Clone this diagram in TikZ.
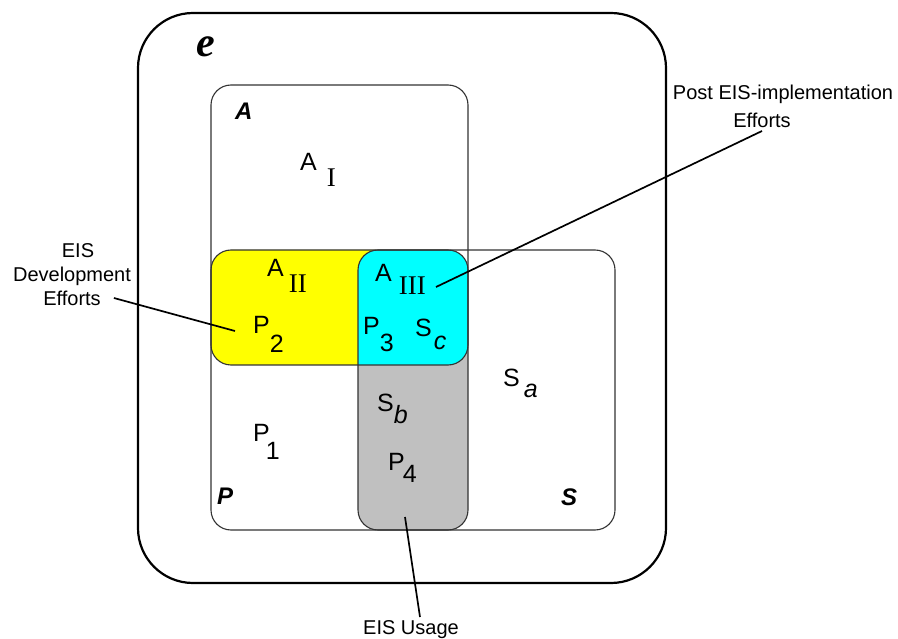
\documentclass[tikz,border=0pt]{standalone}
\usepackage{fontspec}
\setmainfont{Liberation Sans}
\newfontfamily\timesfam{Liberation Serif}
% lowered subscript: drop (pt), text
\newcommand\lowr[2]{\raisebox{-#1pt}{#2}}
% roman numeral set in a serif face
\newcommand\romsub[1]{{\fontsize{27}{30}\selectfont\timesfam #1}}
\begin{document}
\begin{tikzpicture}[x=1pt,y=-1pt,
  region/.style={draw=black!80, line width=1.1pt, rounded corners=20pt},
  leader/.style={draw=black, line width=1.7pt},
  callout/.style={font=\fontsize{20}{24}\selectfont, inner sep=0pt, anchor=base},
  setlbl/.style={anchor=base west, inner sep=0pt, font=\fontsize{25}{30}\selectfont},
  setname/.style={anchor=base west, inner sep=0pt, font=\fontsize{24}{28}\selectfont\bfseries\itshape}]
\useasboundingbox (0,0) rectangle (898,639);

% environment
\draw[line width=2.2pt, rounded corners=55pt] (138,13) rectangle (666,583);
\node[anchor=base west, inner sep=0pt, font=\fontsize{42}{46}\selectfont\timesfam\bfseries\itshape] (envname) at (196,57) {e};

% shaded intersections
\begin{scope}
  \clip[rounded corners=20pt] (211,250) rectangle (468,530);
  \fill[fill={rgb,255:red,192;green,192;blue,192}, rounded corners=20pt] (358,250) rectangle (615,530);
\end{scope}
\begin{scope}
  \clip[rounded corners=20pt] (211,85) rectangle (468,365);
  \fill[fill={rgb,255:red,255;green,255;blue,0}, rounded corners=20pt] (211,250) rectangle (468,530);
\end{scope}
\begin{scope}
  \clip[rounded corners=20pt] (211,85) rectangle (468,365);
  \clip[rounded corners=20pt] (211,250) rectangle (468,530);
  \fill[fill={rgb,255:red,0;green,255;blue,255}, rounded corners=20pt] (358,250) rectangle (615,530);
\end{scope}

% set outlines
\draw[region] (211,85) rectangle (468,365);
\draw[region] (211,250) rectangle (468,530);
\draw[region] (358,250) rectangle (615,530);

% set names
\node[setname] (setA) at (235,120) {A};
\node[setname] (setP) at (217,504) {P};
\node[setname] (setS) at (561,505) {S};

% region labels
\node[setlbl] (aI)   at (300,171) {A\hspace{10pt}\lowr{16}{\romsub{I}}};
\node[setlbl] (aII)  at (267,277) {A\hspace{5pt}\lowr{16}{\romsub{II}}};
\node[setlbl] (aIII) at (375,282) {A\hspace{7pt}\lowr{13}{\romsub{III}}};
\node[setlbl] (p2)   at (253,334) {P\lowr{19}{2}};
\node[setlbl] (p3)   at (363,335) {P\lowr{17}{3}};
\node[setlbl] (sc)   at (415,337) {S\hspace{2pt}\lowr{13}{\itshape c}};
\node[setlbl] (sa)   at (503,387) {S\hspace{4pt}\lowr{10}{\itshape a}};
\node[setlbl] (sb)   at (377,411) {S\lowr{12}{\itshape b}};
\node[setlbl] (p4)   at (388,470) {P\hspace{-2pt}\lowr{12}{4}};
\node[setlbl] (p1)   at (253,441) {P\hspace{-4pt}\lowr{18}{1}};

% callouts (canvas y points up, so shifts are upward-positive)
\node[callout] (devA) at (78,258) {EIS};
\node[callout] (devB) at (72,282) {Development};
\node[callout] (devC) at (72,306) {Efforts};
\coordinate (devEnd) at (235,331);
\draw[leader] ([xshift=13pt,yshift=8pt]devC.base east) -- (devEnd);

\node[callout] (postA) at (783,100) {Post EIS-implementation};
\node[callout] (postB) at (762,128) {Efforts};
\coordinate (postEnd) at (436,287);
\draw[leader] ([yshift=-3pt]postB.base) -- (postEnd);

\node[callout] (usage) at (411,634) {EIS Usage};
\coordinate (usageEnd) at (405,517);
\draw[leader] (usageEnd) -- ([xshift=9pt,yshift=17pt]usage.base);
\end{tikzpicture}
\end{document}
